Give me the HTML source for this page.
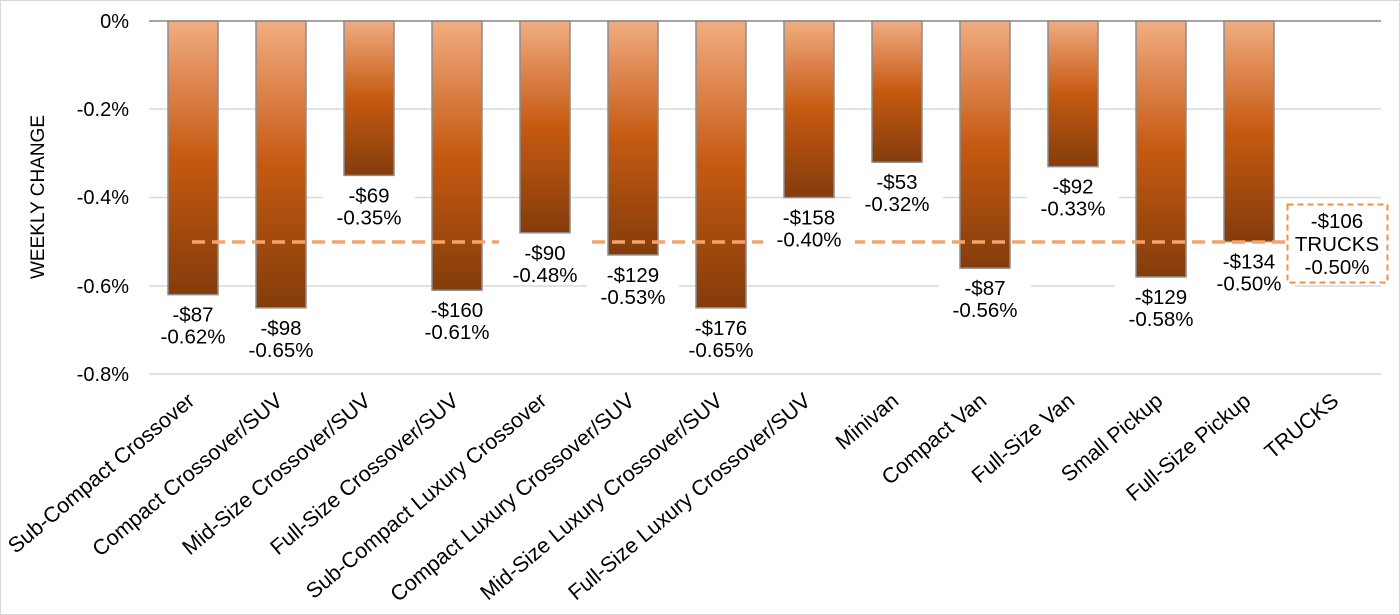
<!DOCTYPE html>
<html><head><meta charset="utf-8"><style>
html,body{margin:0;padding:0;background:#fff;}
svg{display:block;font-family:"Liberation Sans",Arial,sans-serif;}
</style></head><body>
<svg width="1400" height="615" viewBox="0 0 1400 615" xmlns="http://www.w3.org/2000/svg">
<defs>
<linearGradient id="g" x1="0" y1="0" x2="0" y2="1">
<stop offset="0" stop-color="#f1ae80"/>
<stop offset="0.2" stop-color="#e08a55"/>
<stop offset="0.5" stop-color="#c55a11"/>
<stop offset="1" stop-color="#843c0c"/>
</linearGradient>
</defs>
<rect x="0.5" y="0.5" width="1399" height="614" fill="#fff" stroke="#d9d9d9"/>
<g stroke="#d9d9d9" stroke-width="1.5">
<line x1="149" y1="109" x2="1381" y2="109"/>
<line x1="149" y1="197.5" x2="1381" y2="197.5"/>
<line x1="149" y1="286" x2="1381" y2="286"/>
<line x1="149" y1="374" x2="1381" y2="374"/>
</g>
<g font-size="20" fill="#000" text-anchor="end">
<text x="129" y="28">0%</text>
<text x="129" y="116">-0.2%</text>
<text x="129" y="204">-0.4%</text>
<text x="129" y="293">-0.6%</text>
<text x="129" y="381">-0.8%</text>
</g>
<text transform="translate(44,197) rotate(-90)" font-size="19" text-anchor="middle">WEEKLY CHANGE</text>
<g fill="url(#g)" stroke="#8c8c8c" stroke-width="1.5">
<rect x="168" y="21" width="50" height="273.6"/>
<rect x="256" y="21" width="50" height="286.8"/>
<rect x="344" y="21" width="50" height="154.4"/>
<rect x="432" y="21" width="50" height="269.2"/>
<rect x="520" y="21" width="50" height="211.8"/>
<rect x="608" y="21" width="50" height="233.9"/>
<rect x="696" y="21" width="50" height="286.8"/>
<rect x="784" y="21" width="50" height="176.5"/>
<rect x="872" y="21" width="50" height="141.2"/>
<rect x="960" y="21" width="50" height="247.1"/>
<rect x="1048" y="21" width="50" height="145.6"/>
<rect x="1136" y="21" width="50" height="255.9"/>
<rect x="1224" y="21" width="50" height="220.6"/>
</g>
<line x1="149" y1="21" x2="1381" y2="21" stroke="#898989" stroke-width="1.5"/>
<line x1="192" y1="242" x2="1290" y2="242" stroke="#f4a46b" stroke-width="3.5" stroke-dasharray="13 7"/>
<g fill="#fff">
<rect x="147" y="298.6" width="92" height="46"/>
<rect x="235" y="311.8" width="92" height="46"/>
<rect x="323" y="179.4" width="92" height="46"/>
<rect x="411" y="294.2" width="92" height="46"/>
<rect x="499" y="236.8" width="92" height="46"/>
<rect x="587" y="258.9" width="92" height="46"/>
<rect x="675" y="311.8" width="92" height="46"/>
<rect x="763" y="201.5" width="92" height="46"/>
<rect x="851" y="166.2" width="92" height="46"/>
<rect x="939" y="272.1" width="92" height="46"/>
<rect x="1027" y="170.6" width="92" height="46"/>
<rect x="1115" y="280.9" width="92" height="46"/>
<rect x="1203" y="245.6" width="92" height="46"/>
</g>
<g font-size="20.5" text-anchor="middle" fill="#000">
<text x="193" y="321.6">-$87</text><text x="193" y="343.6">-0.62%</text>
<text x="281" y="334.8">-$98</text><text x="281" y="356.8">-0.65%</text>
<text x="369" y="202.4">-$69</text><text x="369" y="224.4">-0.35%</text>
<text x="457" y="317.2">-$160</text><text x="457" y="339.2">-0.61%</text>
<text x="545" y="259.8">-$90</text><text x="545" y="281.8">-0.48%</text>
<text x="633" y="281.9">-$129</text><text x="633" y="303.9">-0.53%</text>
<text x="721" y="334.8">-$176</text><text x="721" y="356.8">-0.65%</text>
<text x="809" y="224.5">-$158</text><text x="809" y="246.5">-0.40%</text>
<text x="897" y="189.2">-$53</text><text x="897" y="211.2">-0.32%</text>
<text x="985" y="295.1">-$87</text><text x="985" y="317.1">-0.56%</text>
<text x="1073" y="193.6">-$92</text><text x="1073" y="215.6">-0.33%</text>
<text x="1161" y="303.9">-$129</text><text x="1161" y="325.9">-0.58%</text>
<text x="1249" y="268.6">-$134</text><text x="1249" y="290.6">-0.50%</text>
</g>
<rect x="1287.5" y="204.5" width="100" height="78" fill="#fff" stroke="#f0904a" stroke-width="2" stroke-dasharray="6 4"/>
<g font-size="20.5" text-anchor="middle" fill="#000">
<text x="1337" y="228">-$106</text>
<text x="1337" y="251">TRUCKS</text>
<text x="1337" y="274">-0.50%</text>
</g>
<g font-size="21.5" text-anchor="end" fill="#000">
<text x="196" y="403" transform="rotate(-40 196 403)">Sub-Compact Crossover</text>
<text x="284" y="403" transform="rotate(-40 284 403)">Compact Crossover/SUV</text>
<text x="372" y="403" transform="rotate(-40 372 403)">Mid-Size Crossover/SUV</text>
<text x="460" y="403" transform="rotate(-40 460 403)">Full-Size Crossover/SUV</text>
<text x="548" y="403" transform="rotate(-40 548 403)">Sub-Compact Luxury Crossover</text>
<text x="636" y="403" transform="rotate(-40 636 403)">Compact Luxury Crossover/SUV</text>
<text x="724" y="403" transform="rotate(-40 724 403)">Mid-Size Luxury Crossover/SUV</text>
<text x="812" y="403" transform="rotate(-40 812 403)">Full-Size Luxury Crossover/SUV</text>
<text x="900" y="403" transform="rotate(-40 900 403)">Minivan</text>
<text x="988" y="403" transform="rotate(-40 988 403)">Compact Van</text>
<text x="1076" y="403" transform="rotate(-40 1076 403)">Full-Size Van</text>
<text x="1164" y="403" transform="rotate(-40 1164 403)">Small Pickup</text>
<text x="1252" y="403" transform="rotate(-40 1252 403)">Full-Size Pickup</text>
<text x="1340" y="403" transform="rotate(-40 1340 403)">TRUCKS</text>
</g>
</svg>
</body></html>
